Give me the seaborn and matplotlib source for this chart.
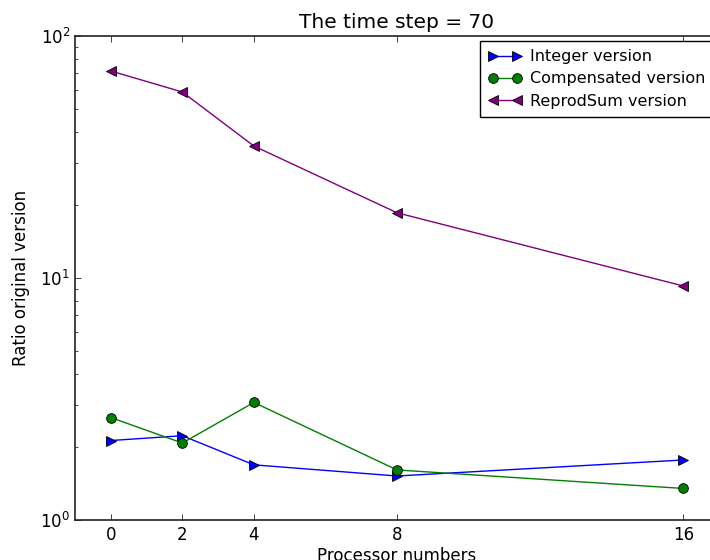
import matplotlib
matplotlib.use("Agg")
import matplotlib.pyplot as plt
from matplotlib.lines import Line2D
import pandas as pd
import seaborn as sns

# Ratio of each summation variant against the original version, per processor count
processors = [0, 2, 4, 8, 16]
integer_ratio = [2.13, 2.23, 1.69, 1.52, 1.77]
compensated_ratio = [2.65, 2.08, 3.06, 1.61, 1.35]
reprodsum_ratio = [71.7, 58.7, 35.1, 18.6, 9.27]
series_names = ["Integer version", "Compensated version", "ReprodSum version"]
x_ticks = [0, 2, 4, 8, 16]

sns.set_style("ticks")
plt.rcParams.update({
    "font.family": ["DejaVu Sans"],
    "text.color": "black",
    "axes.labelcolor": "black",
    "axes.titlecolor": "black",
    "legend.labelcolor": "black",
    "xtick.direction": "in",
    "ytick.direction": "in",
    "xtick.top": True,
    "ytick.right": True,
    "xtick.major.size": 4,
    "ytick.major.size": 4,
    "ytick.minor.size": 2,
    "xtick.minor.size": 2,
    "xtick.major.width": 0.6,
    "ytick.major.width": 0.6,
    "ytick.minor.width": 0.6,
    "axes.linewidth": 1.2,
    "axes.edgecolor": "#222222",
    "xtick.color": "#222222",
    "ytick.color": "#222222",
    "xtick.labelcolor": "black",
    "ytick.labelcolor": "black",
})

frames = []
for name, vals in zip(series_names, [integer_ratio, compensated_ratio, reprodsum_ratio]):
    frames.append(pd.DataFrame({"processors": processors, "ratio": vals, "version": name}))
df = pd.concat(frames, ignore_index=True)

colors = {"Integer version": "#0000ff", "Compensated version": "#008000", "ReprodSum version": "#800080"}
markers = {"Integer version": ">", "Compensated version": "o", "ReprodSum version": "<"}

# The axes runs slightly past the right edge of the canvas
fig = plt.figure(figsize=(7.1, 5.6), dpi=100)
ax = fig.add_axes([75 / 710, 40 / 560, 644 / 710, 484 / 560])

sns.lineplot(data=df, x="processors", y="ratio", hue="version", style="version",
             palette=colors, markers=markers, dashes=False, hue_order=series_names,
             style_order=series_names, linewidth=1.0, markersize=7,
             markeredgecolor="black", markeredgewidth=0.6, legend=False, ax=ax)

ax.set_yscale("log")
ax.set_ylim(1, 100)
ax.set_xlim(-1, 17)
ax.set_xticks(x_ticks)
ax.set_xticklabels([str(t) for t in x_ticks])
ax.tick_params(axis="both", which="both", labelsize=12, direction="in", top=True, right=True)
ax.tick_params(axis="x", pad=4)
ax.set_xlabel("Processor numbers", fontsize=12, labelpad=2.5)
ax.set_ylabel("Ratio original version", fontsize=12, labelpad=7)
ax.set_title("The time step = 70", fontsize=14.5)

handles = [Line2D([0], [0], color=colors[n], marker=markers[n], markersize=7,
                  markeredgecolor="black", markeredgewidth=0.6, linewidth=1.0)
           for n in series_names]
leg = ax.legend(handles, series_names, loc="upper right", numpoints=2, fontsize=11.5,
                frameon=True, fancybox=False, edgecolor="black", framealpha=1,
                borderaxespad=0.33, borderpad=0.5, handlelength=2.1,
                handletextpad=0.55, labelspacing=0.45)
leg.get_frame().set_linewidth(1.0)

fig.savefig("out.png", dpi=100)
